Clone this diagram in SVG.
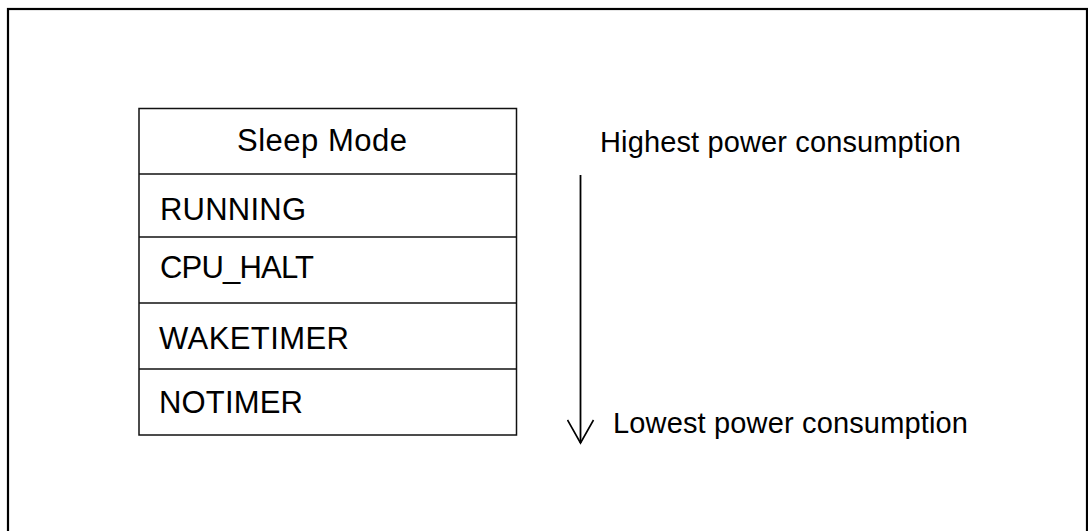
<svg xmlns="http://www.w3.org/2000/svg" width="1088" height="531" viewBox="0 0 1088 531">
<style>
.t{font-family:"Liberation Sans",Arial,sans-serif;font-size:31px;fill:#000}
.r{font-size:29px}
.ln{stroke:#111;stroke-width:1.5;fill:none}
</style>
<defs>
<marker id="open" viewBox="0 0 30 26" refX="14" refY="24" markerWidth="30" markerHeight="26" markerUnits="userSpaceOnUse" orient="0">
<path d="M1,1 L14,24 L27,1" fill="none" stroke="#000" stroke-width="1.6"/>
</marker>
</defs>
<rect width="1088" height="531" fill="#fff"/>
<g id="frame"><rect x="8" y="9" width="1079" height="560" fill="none" stroke="#000" stroke-width="2.2"/></g>
<g id="table">
<rect class="ln" x="139" y="108.5" width="377.5" height="326.5"/>
<line class="ln" x1="139" y1="174" x2="516.5" y2="174"/>
<line class="ln" x1="139" y1="237" x2="516.5" y2="237"/>
<line class="ln" x1="139" y1="303" x2="516.5" y2="303"/>
<line class="ln" x1="139" y1="369" x2="516.5" y2="369"/>
</g>
<g id="header"><text class="t" x="237" y="151" textLength="170" lengthAdjust="spacing">Sleep Mode</text></g>
<g id="running"><text class="t" x="160" y="220" textLength="146" lengthAdjust="spacing">RUNNING</text></g>
<g id="cpu_halt"><text class="t" x="160" y="278" textLength="154" lengthAdjust="spacing">CPU_HALT</text></g>
<g id="waketimer"><text class="t" x="159" y="349" textLength="190" lengthAdjust="spacing">WAKETIMER</text></g>
<g id="notimer"><text class="t" x="159" y="413" textLength="144" lengthAdjust="spacing">NOTIMER</text></g>
<g id="highest"><text class="t r" x="600" y="152" textLength="361" lengthAdjust="spacing">Highest power consumption</text></g>
<g id="lowest"><text class="t r" x="613" y="433" textLength="355" lengthAdjust="spacing">Lowest power consumption</text></g>
<g id="connectors">
<line x1="580.5" y1="175" x2="580.5" y2="443" stroke="#000" stroke-width="1.8" marker-end="url(#open)"/>
</g>
</svg>
